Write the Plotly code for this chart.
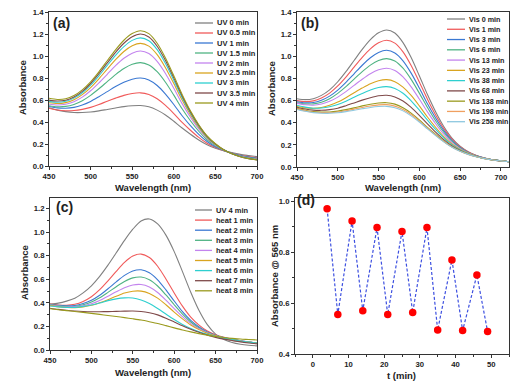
import plotly.graph_objects as go

# ---------------- data ----------------
wl = [450, 460, 470, 480, 490, 500, 510, 520, 530, 540, 550, 560, 570,
      580, 590, 600, 610, 620, 630, 640, 650, 660, 670, 680, 690, 700]
wl_b = wl + [710]

# panel (a): UV irradiation
labels_a = ["UV 0 min", "UV 0.5 min", "UV 1 min", "UV 1.5 min", "UV 2 min",
            "UV 2.5 min", "UV 3 min", "UV 3.5 min", "UV 4 min"]
uv_0 = [0.530, 0.508, 0.494, 0.486, 0.486, 0.491, 0.501, 0.514, 0.527, 0.540, 0.548, 0.550, 0.538, 0.508, 0.464, 0.407, 0.345, 0.289, 0.237, 0.193, 0.162, 0.139, 0.122, 0.106, 0.095, 0.085]
uv_05 = [0.525, 0.509, 0.502, 0.504, 0.515, 0.533, 0.559, 0.589, 0.617, 0.642, 0.659, 0.665, 0.650, 0.611, 0.551, 0.477, 0.396, 0.325, 0.260, 0.206, 0.168, 0.138, 0.117, 0.098, 0.086, 0.075]
uv_1 = [0.541, 0.528, 0.525, 0.533, 0.555, 0.587, 0.630, 0.676, 0.722, 0.761, 0.789, 0.800, 0.782, 0.732, 0.654, 0.559, 0.457, 0.367, 0.288, 0.223, 0.175, 0.141, 0.115, 0.095, 0.081, 0.070]
uv_15 = [0.548, 0.539, 0.542, 0.560, 0.594, 0.642, 0.702, 0.767, 0.831, 0.886, 0.925, 0.940, 0.919, 0.857, 0.761, 0.644, 0.520, 0.411, 0.316, 0.239, 0.184, 0.143, 0.114, 0.091, 0.077, 0.066]
uv_2 = [0.562, 0.555, 0.561, 0.585, 0.626, 0.684, 0.756, 0.834, 0.912, 0.979, 1.026, 1.045, 1.022, 0.951, 0.841, 0.707, 0.567, 0.444, 0.337, 0.252, 0.190, 0.145, 0.112, 0.088, 0.072, 0.061]
uv_25 = [0.575, 0.568, 0.576, 0.602, 0.649, 0.713, 0.793, 0.881, 0.966, 1.041, 1.093, 1.115, 1.090, 1.013, 0.894, 0.750, 0.599, 0.466, 0.351, 0.259, 0.194, 0.146, 0.112, 0.086, 0.070, 0.059]
uv_3 = [0.588, 0.580, 0.588, 0.617, 0.666, 0.735, 0.820, 0.914, 1.005, 1.085, 1.142, 1.165, 1.139, 1.058, 0.932, 0.780, 0.621, 0.481, 0.361, 0.265, 0.197, 0.147, 0.112, 0.086, 0.069, 0.058]
uv_35 = [0.599, 0.591, 0.598, 0.627, 0.678, 0.750, 0.839, 0.937, 1.033, 1.116, 1.175, 1.200, 1.173, 1.089, 0.959, 0.801, 0.637, 0.492, 0.369, 0.270, 0.200, 0.147, 0.112, 0.084, 0.067, 0.056]
uv_4 = [0.616, 0.605, 0.611, 0.640, 0.692, 0.765, 0.856, 0.957, 1.056, 1.143, 1.204, 1.230, 1.203, 1.116, 0.982, 0.820, 0.651, 0.501, 0.375, 0.273, 0.202, 0.148, 0.112, 0.084, 0.067, 0.056]

# panel (b): visible light fading
labels_b = ["Vis 0 min", "Vis 1 min", "Vis 3 min", "Vis 6 min", "Vis 13 min", "Vis 23 min",
            "Vis 38 min", "Vis 68 min", "Vis 138 min", "Vis 198 min", "Vis 258 min"]
vis_0 = [0.617, 0.609, 0.617, 0.647, 0.697, 0.770, 0.861, 0.962, 1.062, 1.150, 1.212, 1.238, 1.210, 1.123, 0.988, 0.824, 0.654, 0.499, 0.366, 0.262, 0.189, 0.139, 0.104, 0.081, 0.065, 0.056, 0.048]
vis_1 = [0.600, 0.591, 0.597, 0.623, 0.667, 0.732, 0.812, 0.902, 0.990, 1.067, 1.122, 1.145, 1.119, 1.040, 0.917, 0.768, 0.612, 0.470, 0.347, 0.251, 0.183, 0.135, 0.103, 0.081, 0.065, 0.056, 0.048]
vis_3 = [0.590, 0.580, 0.582, 0.603, 0.640, 0.695, 0.765, 0.842, 0.919, 0.987, 1.035, 1.054, 1.030, 0.959, 0.848, 0.713, 0.571, 0.442, 0.329, 0.240, 0.177, 0.132, 0.101, 0.080, 0.065, 0.056, 0.048]
vis_6 = [0.580, 0.570, 0.570, 0.585, 0.617, 0.665, 0.726, 0.794, 0.861, 0.920, 0.962, 0.979, 0.957, 0.892, 0.791, 0.667, 0.538, 0.418, 0.314, 0.231, 0.172, 0.129, 0.100, 0.079, 0.065, 0.056, 0.048]
vis_13 = [0.575, 0.562, 0.558, 0.569, 0.593, 0.631, 0.681, 0.737, 0.793, 0.843, 0.878, 0.892, 0.872, 0.814, 0.724, 0.614, 0.498, 0.391, 0.296, 0.220, 0.166, 0.126, 0.098, 0.079, 0.064, 0.055, 0.048]
vis_23 = [0.546, 0.534, 0.530, 0.538, 0.557, 0.586, 0.626, 0.670, 0.713, 0.752, 0.779, 0.789, 0.771, 0.722, 0.646, 0.552, 0.452, 0.359, 0.275, 0.208, 0.159, 0.123, 0.096, 0.078, 0.064, 0.055, 0.048]
vis_38 = [0.558, 0.541, 0.531, 0.533, 0.544, 0.565, 0.595, 0.630, 0.664, 0.696, 0.718, 0.726, 0.710, 0.666, 0.598, 0.514, 0.424, 0.339, 0.263, 0.200, 0.154, 0.120, 0.095, 0.077, 0.064, 0.055, 0.048]
vis_68 = [0.540, 0.524, 0.514, 0.512, 0.518, 0.531, 0.554, 0.579, 0.604, 0.626, 0.643, 0.648, 0.633, 0.596, 0.538, 0.466, 0.389, 0.315, 0.247, 0.190, 0.149, 0.117, 0.094, 0.077, 0.064, 0.055, 0.048]
vis_138 = [0.530, 0.513, 0.500, 0.496, 0.497, 0.505, 0.518, 0.534, 0.552, 0.567, 0.578, 0.581, 0.568, 0.536, 0.487, 0.426, 0.358, 0.294, 0.233, 0.182, 0.145, 0.115, 0.093, 0.076, 0.063, 0.055, 0.048]
vis_198 = [0.525, 0.507, 0.495, 0.490, 0.490, 0.497, 0.508, 0.523, 0.538, 0.551, 0.561, 0.563, 0.550, 0.520, 0.474, 0.415, 0.350, 0.288, 0.230, 0.180, 0.143, 0.114, 0.092, 0.076, 0.063, 0.055, 0.048]
vis_258 = [0.520, 0.503, 0.491, 0.486, 0.485, 0.490, 0.500, 0.513, 0.526, 0.538, 0.546, 0.548, 0.536, 0.507, 0.462, 0.406, 0.344, 0.284, 0.227, 0.178, 0.142, 0.114, 0.092, 0.076, 0.063, 0.055, 0.048]

# panel (c): thermal fading
labels_c = ["UV 4 min", "heat 1 min", "heat 2 min", "heat 3 min", "heat 4 min",
            "heat 5 min", "heat 6 min", "heat 7 min", "heat 8 min"]
uv4_c = [0.390, 0.398, 0.415, 0.440, 0.485, 0.545, 0.625, 0.720, 0.825, 0.930, 1.025, 1.095, 1.112, 1.070, 0.975, 0.835, 0.665, 0.490, 0.335, 0.215, 0.135, 0.090, 0.064, 0.049, 0.040, 0.035]
heat_1 = [0.389, 0.382, 0.380, 0.388, 0.412, 0.452, 0.512, 0.587, 0.668, 0.743, 0.797, 0.814, 0.785, 0.711, 0.603, 0.484, 0.372, 0.279, 0.211, 0.161, 0.129, 0.107, 0.091, 0.077, 0.067, 0.058]
heat_2 = [0.388, 0.379, 0.375, 0.378, 0.394, 0.422, 0.465, 0.520, 0.578, 0.633, 0.671, 0.681, 0.656, 0.596, 0.510, 0.416, 0.326, 0.251, 0.195, 0.153, 0.125, 0.105, 0.090, 0.078, 0.067, 0.058]
heat_3 = [0.385, 0.376, 0.370, 0.371, 0.384, 0.407, 0.443, 0.489, 0.537, 0.581, 0.612, 0.619, 0.596, 0.543, 0.467, 0.384, 0.305, 0.238, 0.187, 0.149, 0.123, 0.104, 0.090, 0.078, 0.067, 0.058]
heat_4 = [0.382, 0.373, 0.367, 0.367, 0.375, 0.392, 0.420, 0.457, 0.494, 0.529, 0.552, 0.556, 0.535, 0.488, 0.423, 0.351, 0.283, 0.224, 0.180, 0.146, 0.121, 0.103, 0.089, 0.078, 0.067, 0.058]
heat_5 = [0.377, 0.368, 0.362, 0.359, 0.366, 0.379, 0.401, 0.427, 0.456, 0.483, 0.499, 0.500, 0.480, 0.440, 0.384, 0.322, 0.264, 0.212, 0.173, 0.142, 0.120, 0.103, 0.089, 0.077, 0.067, 0.058]
heat_6 = [0.373, 0.366, 0.362, 0.362, 0.370, 0.382, 0.399, 0.419, 0.434, 0.442, 0.441, 0.424, 0.394, 0.352, 0.305, 0.259, 0.217, 0.182, 0.155, 0.133, 0.115, 0.101, 0.089, 0.077, 0.067, 0.058]
heat_7 = [0.355, 0.345, 0.337, 0.331, 0.327, 0.325, 0.325, 0.326, 0.328, 0.330, 0.331, 0.327, 0.316, 0.298, 0.270, 0.238, 0.205, 0.176, 0.150, 0.126, 0.107, 0.092, 0.080, 0.069, 0.060, 0.052]
heat_8 = [0.350, 0.342, 0.334, 0.327, 0.319, 0.311, 0.302, 0.293, 0.284, 0.275, 0.265, 0.254, 0.240, 0.225, 0.207, 0.188, 0.170, 0.154, 0.139, 0.126, 0.115, 0.106, 0.099, 0.093, 0.089, 0.085]

# panel (d): cycling
t_min = [4, 7, 11, 14, 18, 21, 25, 28, 32, 35, 39, 42, 46, 49]
abs_565 = [0.970, 0.555, 0.922, 0.570, 0.896, 0.555, 0.881, 0.563, 0.896, 0.494, 0.769, 0.492, 0.710, 0.488]

# ---------------- styling ----------------
colors_9 = ["#808080", "#F05A5A", "#3A78D2", "#4FB383", "#C384EE",
            "#D9A420", "#2ECFCF", "#7F4A4A", "#9A9A1E"]
colors_11 = ["#808080", "#F05A5A", "#3A78D2", "#4FB383", "#C384EE", "#D9A420",
             "#2ECFCF", "#7F4A4A", "#9A9A1E", "#F0A060", "#8EC8E0"]

FW, FH = 523, 383
FONT = "Liberation Sans, Arial, sans-serif"
AXC = "#333333"


def px(x):
    return x / FW


def py(y):
    return 1 - y / FH


fig = go.Figure()

series_a = [uv_0, uv_05, uv_1, uv_15, uv_2, uv_25, uv_3, uv_35, uv_4]
series_b = [vis_0, vis_1, vis_3, vis_6, vis_13, vis_23, vis_38, vis_68, vis_138, vis_198, vis_258]
series_c = [uv4_c, heat_1, heat_2, heat_3, heat_4, heat_5, heat_6, heat_7, heat_8]

for name, ys, c in zip(labels_a, series_a, colors_9):
    fig.add_trace(go.Scatter(x=wl, y=ys, mode="lines", name=name, xaxis="x", yaxis="y",
                             line=dict(color=c, width=1.1, shape="spline", smoothing=0.8)))
for name, ys, c in zip(labels_b, series_b, colors_11):
    fig.add_trace(go.Scatter(x=wl_b, y=ys, mode="lines", name=name, xaxis="x2", yaxis="y2",
                             line=dict(color=c, width=1.1, shape="spline", smoothing=0.8)))
for name, ys, c in zip(labels_c, series_c, colors_9):
    fig.add_trace(go.Scatter(x=wl, y=ys, mode="lines", name=name, xaxis="x3", yaxis="y3",
                             line=dict(color=c, width=1.1, shape="spline", smoothing=0.8)))
fig.add_trace(go.Scatter(x=t_min, y=abs_565, mode="lines+markers", name="A565",
                         xaxis="x4", yaxis="y4",
                         line=dict(color="#3C4FE0", width=1.2, dash="3px,2px"),
                         marker=dict(color="#FF0000", size=7.5, line=dict(width=0))))


def axis(domain, rng, dtick, tick0, minor, anchor, fmt):
    return dict(domain=domain, range=rng, dtick=dtick, tick0=tick0, anchor=anchor,
                automargin=False,
                ticks="outside", ticklen=3, tickwidth=1, tickcolor=AXC,
                showline=True, mirror=True, linecolor=AXC, linewidth=1,
                showgrid=False, zeroline=False, tickformat=fmt,
                tickfont=dict(family=FONT, size=7.7, color="#222222", weight="bold"),
                minor=dict(dtick=minor, ticks="outside", ticklen=2, tickcolor=AXC, showgrid=False))


layout = dict(
    width=FW, height=FH, margin=dict(l=0, r=0, t=0, b=0, autoexpand=False),
    paper_bgcolor="white", plot_bgcolor="white", showlegend=False,
    xaxis=axis([px(49), px(257)], [450, 700], 50, 450, 25, "y", "d"),
    yaxis=axis([py(166), py(12)], [0, 1.4], 0.2, 0, 0.1, "x", ".1f"),
    xaxis2=axis([px(297), px(509)], [450, 710], 50, 450, 25, "y2", "d"),
    yaxis2=axis([py(167), py(12)], [0, 1.4], 0.2, 0, 0.1, "x2", ".1f"),
    xaxis3=axis([px(50), px(257)], [450, 700], 50, 450, 25, "y3", "d"),
    yaxis3=axis([py(350), py(198)], [0, 1.29], 0.2, 0, 0.1, "x3", ".1f"),
    xaxis4=axis([px(295), px(509)], [-5, 55], 10, 0, 5, "y4", "d"),
    yaxis4=axis([py(354), py(198)], [0.4, 1.012], 0.2, 0.4, 0.1, "x4", ".1f"),
)
fig.update_layout(**layout)

annotations = []
shapes = []


def text(x, y, s, size, xanchor="center", angle=0):
    annotations.append(dict(x=px(x), y=py(y), xref="paper", yref="paper", text=s,
                            showarrow=False, xanchor=xanchor, yanchor="middle",
                            textangle=angle,
                            font=dict(family=FONT, size=size, color="#222222", weight="bold")))


# panel labels
text(61.5, 23, "(a)", 14)
text(310, 23, "(b)", 14)
text(64, 207, "(c)", 14)
text(306, 200, "(d)", 14)

# axis titles
text(22, 88, "Absorbance", 9.5, angle=-90)
text(272, 89, "Absorbance", 9.5, angle=-90)
text(24, 273, "Absorbance", 9.5, angle=-90)
text(274, 276, "Absorbance @ 565 nm", 9.5, angle=-90)
text(153, 187, "Wavelength (nm)", 9.5)
text(403, 187, "Wavelength (nm)", 9.5)
text(153, 372, "Wavelength (nm)", 9.5)
text(402, 375, "t (min)", 9.5)


def legend(names, cols, x0, x1, xt, y0, dy, size):
    for i, (n, c) in enumerate(zip(names, cols)):
        y = y0 + dy * i
        shapes.append(dict(type="line", xref="paper", yref="paper",
                           x0=px(x0), x1=px(x1), y0=py(y), y1=py(y),
                           line=dict(color=c, width=1.3)))
        text(xt, y, n, size, xanchor="left")


legend(labels_a, colors_9, 195, 213, 214.5, 23, 10, 7.5)
legend(labels_b, colors_11, 447, 465, 466.5, 19, 10.27, 7.2)
legend(labels_c, colors_9, 195, 212, 213.5, 210, 10.1, 7.5)

fig.update_layout(annotations=annotations, shapes=shapes)
fig.write_html("out.html",
               config={"displayModeBar": False, "staticPlot": True},
               post_script="document.body.style.margin='0';document.body.style.overflow='hidden';")
